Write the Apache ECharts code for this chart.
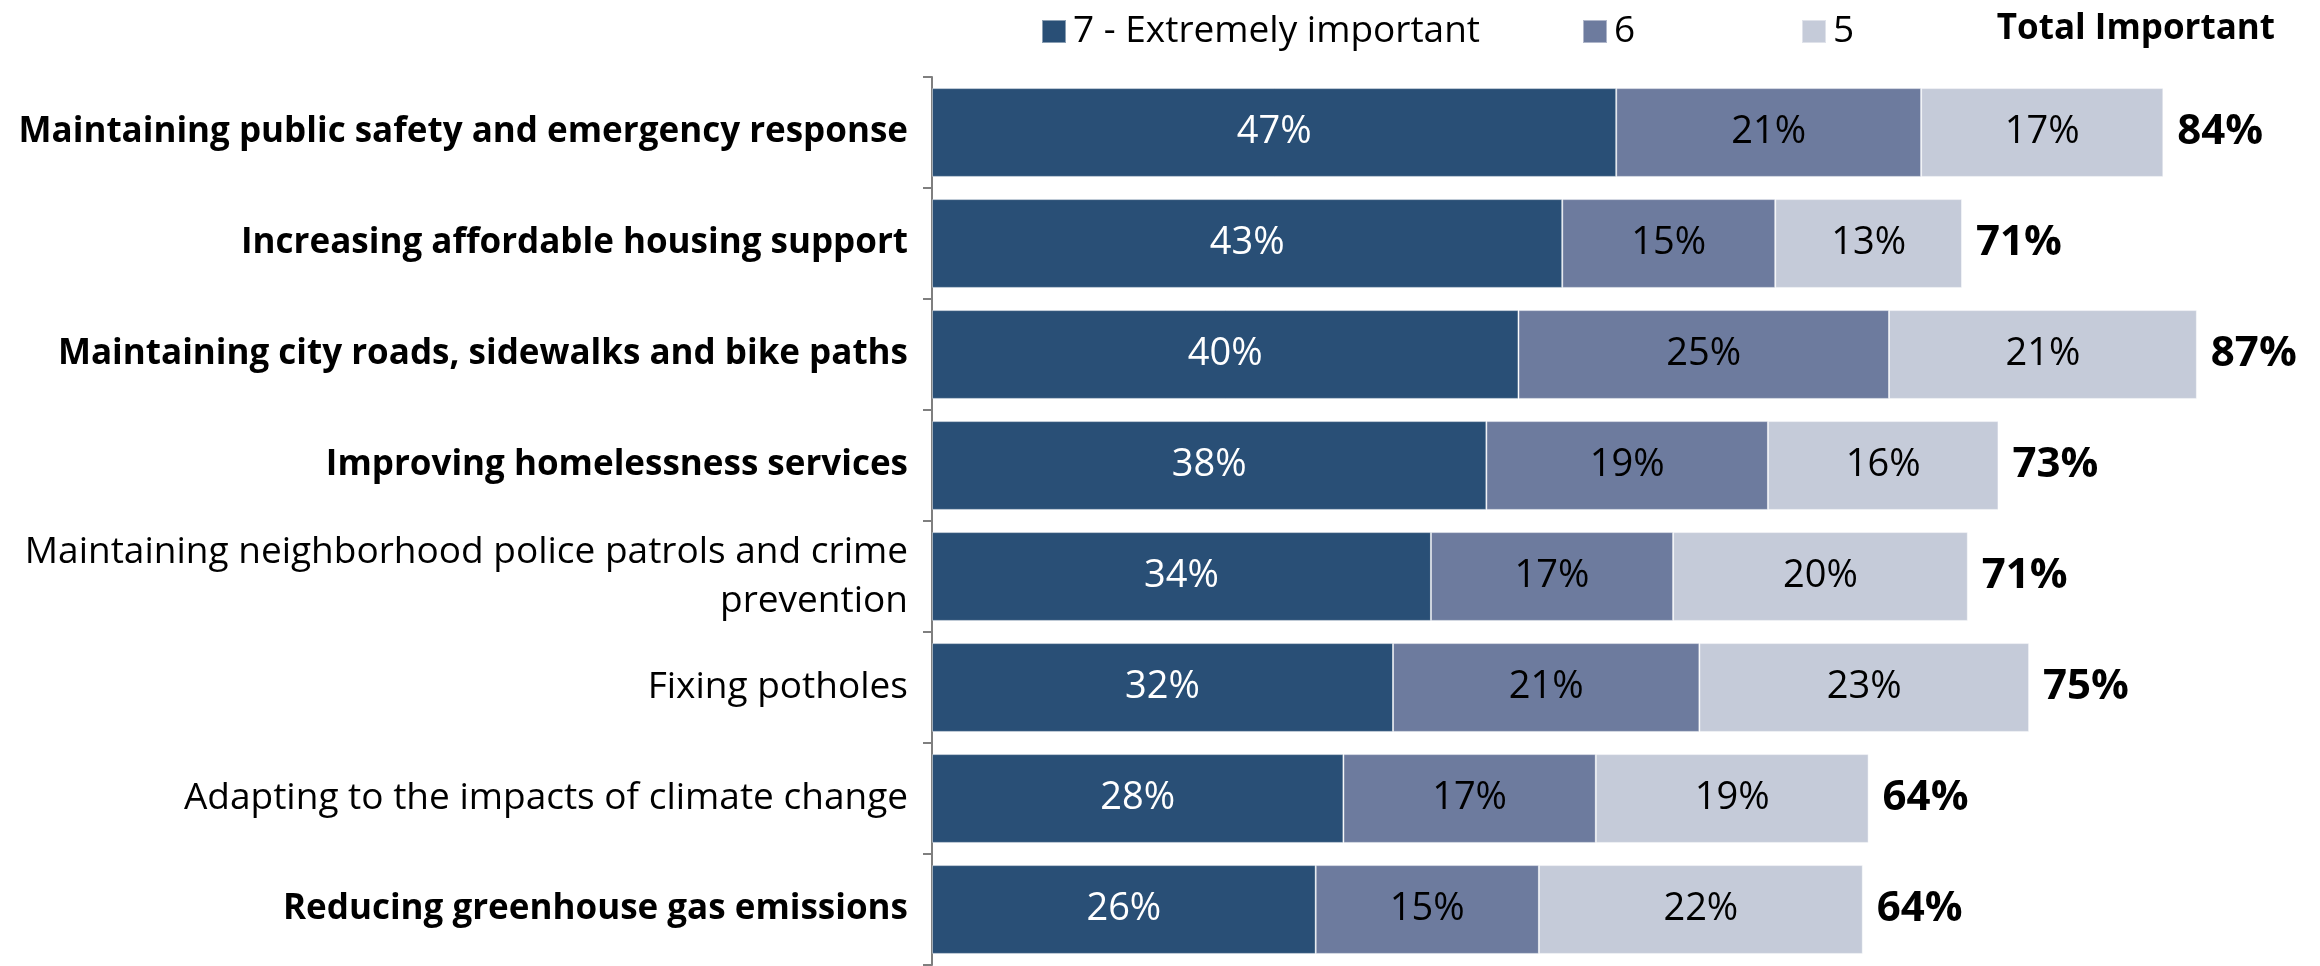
<!DOCTYPE html>
<html>
<head>
<meta charset="utf-8">
<script src="https://cdn.jsdelivr.net/npm/echarts@6/dist/echarts.min.js"></script>
<style>
html,body{margin:0;padding:0;background:#fff;}
#chart{width:2320px;height:966px;}
</style>
</head>
<body>
<div id="chart"></div>
<script>
// ---- data ----
const categories = [
  "Maintaining public safety and emergency response",
  "Increasing affordable housing support",
  "Maintaining city roads, sidewalks and bike paths",
  "Improving homelessness services",
  "Maintaining neighborhood police patrols and crime\nprevention",
  "Fixing potholes",
  "Adapting to the impacts of climate change",
  "Reducing greenhouse gas emissions"
];
const emphasized = [true, true, true, true, false, false, false, true];
const seriesNames = ["7 - Extremely important", "6", "5"];
const totalName = "Total Important";
const sevens = [46.9, 43.2, 40.2, 38.0, 34.2, 31.6, 28.2, 26.3];
const sixes  = [20.9, 14.6, 25.4, 19.3, 16.6, 21.0, 17.3, 15.3];
const fives  = [16.6, 12.8, 21.1, 15.8, 20.2, 22.6, 18.7, 22.2];
const totals = categories.map((c, i) => +(sevens[i] + sixes[i] + fives[i]).toFixed(1));

// ---- styles ----
const FONT = "'Open Sans', sans-serif";
const colors = ["#294F76", "#6D7B9E", "#C5CBD9"];
const labelColors = ["#ffffff", "#000000", "#000000"];

const chart = echarts.init(document.getElementById('chart'), null, {renderer: 'canvas'});

function segSeries(name, data, idx) {
  return {
    name: name,
    type: 'bar',
    stack: 'imp',
    data: data,
    barCategoryGap: '20%',
    itemStyle: {color: colors[idx], borderColor: 'rgba(255,255,255,0.45)', borderWidth: 1},
    label: {
      show: true,
      position: 'inside',
      color: labelColors[idx],
      fontFamily: FONT,
      fontSize: 38,
      formatter: p => Math.round(p.value) + '%'
    },
    emphasis: {disabled: true}
  };
}

function legendAt(name, left) {
  return {
    data: [name],
    left: left,
    top: 8,
    icon: 'rect',
    itemWidth: 24,
    itemHeight: 23,
    selectedMode: false,
    textStyle: {fontFamily: FONT, fontSize: 37, color: '#000', padding: [0, 0, 0, 2]}
  };
}

const option = {
  animation: false,
  backgroundColor: '#ffffff',
  title: {
    text: totalName,
    right: 40,
    top: 7,
    textStyle: {fontFamily: FONT, fontSize: 35, fontWeight: 'bold', color: '#000'}
  },
  legend: [
    legendAt(seriesNames[0], 1036),
    legendAt(seriesNames[1], 1577),
    legendAt(seriesNames[2], 1796)
  ],
  grid: {left: 932, right: 75, top: 77, bottom: 1, containLabel: false},
  xAxis: {
    type: 'value',
    min: 0,
    max: 90,
    show: false
  },
  yAxis: {
    type: 'category',
    inverse: true,
    data: categories,
    axisLine: {show: true, lineStyle: {color: '#7f7f7f', width: 2}},
    axisTick: {show: true, length: 9, lineStyle: {color: '#7f7f7f', width: 2}},
    axisLabel: {
      margin: 24,
      align: 'right',
      formatter: (value, idx) => {
        const key = emphasized[idx] ? 'b' : 'n';
        return value.split('\n').map(s => '{' + key + '|' + s + '}').join('\n');
      },
      rich: {
        b: {fontFamily: FONT, fontSize: 35, fontWeight: 'bold', color: '#000', align: 'right', lineHeight: 49},
        n: {fontFamily: FONT, fontSize: 37, fontWeight: 'normal', color: '#000', align: 'right', lineHeight: 49}
      }
    }
  },
  series: [
    segSeries(seriesNames[0], sevens, 0),
    segSeries(seriesNames[1], sixes, 1),
    segSeries(seriesNames[2], fives, 2),
    {
      name: totalName,
      type: 'bar',
      data: totals,
      barGap: '-100%',
      barCategoryGap: '20%',
      z: 1,
      itemStyle: {color: 'rgba(0,0,0,0)'},
      label: {
        show: true,
        position: 'right',
        distance: 14,
        color: '#000',
        fontFamily: FONT,
        fontSize: 42,
        fontWeight: 'bold',
        formatter: p => Math.round(p.value) + '%'
      },
      emphasis: {disabled: true},
      silent: true
    }
  ]
};
chart.setOption(option);
</script>
</body>
</html>
